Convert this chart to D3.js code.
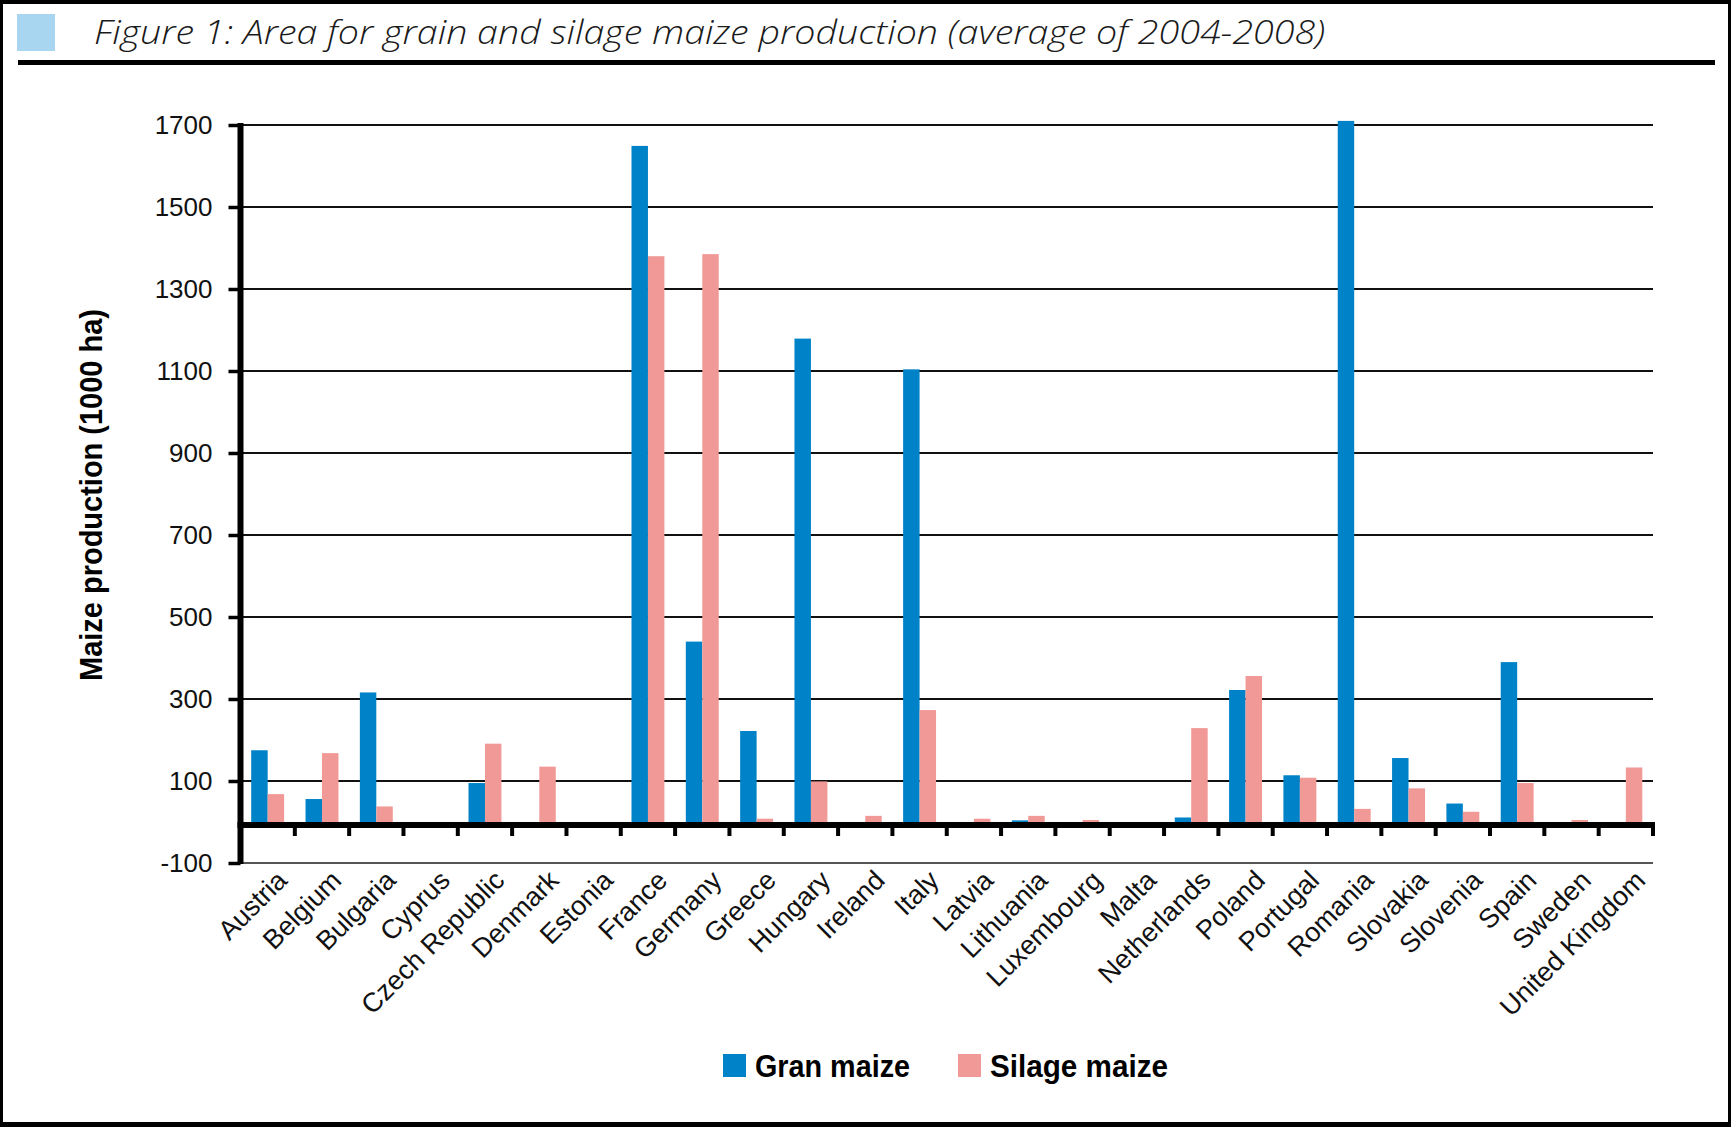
<!DOCTYPE html>
<html>
<head>
<meta charset="utf-8">
<script src="https://cdn.jsdelivr.net/npm/d3@7/dist/d3.min.js"></script>
<style>
  html, body { margin: 0; padding: 0; background: #fff; }
  svg { display: block; }
</style>
</head>
<body>
<svg id="chart" width="1731" height="1127"></svg>
<script>
// ---- data ----
const categories = ["Austria","Belgium","Bulgaria","Cyprus","Czech Republic","Denmark","Estonia","France","Germany","Greece","Hungary","Ireland","Italy","Latvia","Lithuania","Luxembourg","Malta","Netherlands","Poland","Portugal","Romania","Slovakia","Slovenia","Spain","Sweden","United Kingdom"];
const grainMaize  = [175, 56, 316, 0, 95, 0, 0, 1649, 440, 222, 1179, 0, 1104, 0, 4, 0, 0, 11, 322, 114, 1710, 156, 45, 390, 0, 0];
const silageMaize = [68, 168, 38, 0, 191, 135, 0, 1380, 1385, 8, 99, 15, 273, 8, 15, 5, 0, 229, 356, 108, 32, 82, 25, 95, 5, 133];
const seriesNames = ["Gran maize", "Silage maize"];
const seriesColors = ["#0082c8", "#f19996"];
const yTicks = [-100, 100, 300, 500, 700, 900, 1100, 1300, 1500, 1700];
const titleText = "Figure 1: Area for grain and silage maize production (average of 2004-2008)";
const yLabel = "Maize production (1000 ha)";

const svg = d3.select("#chart");
const W = 1731, H = 1127;

// ---- frame ----
svg.append("rect").attr("x", 0).attr("y", 0).attr("width", W).attr("height", 4).attr("fill", "#000");
svg.append("rect").attr("x", 0).attr("y", 0).attr("width", 3).attr("height", H).attr("fill", "#000");
svg.append("rect").attr("x", W - 3).attr("y", 0).attr("width", 3).attr("height", H).attr("fill", "#000");
svg.append("rect").attr("x", 0).attr("y", H - 5).attr("width", W).attr("height", 5).attr("fill", "#000");

// ---- title ----
svg.append("rect").attr("x", 17).attr("y", 14).attr("width", 38).attr("height", 37).attr("fill", "#a8d6f1");
svg.append("text")
  .attr("x", 94).attr("y", 44)
  .attr("font-family", "'Open Sans', 'Noto Sans', sans-serif")
  .attr("font-style", "italic").attr("font-weight", 300)
  .attr("font-size", 33).attr("fill", "#1a1a1a")
  .attr("textLength", 1231).attr("lengthAdjust", "spacingAndGlyphs")
  .text(titleText);
svg.append("rect").attr("x", 18).attr("y", 60).attr("width", 1697).attr("height", 5).attr("fill", "#000");

// ---- scales ----
const x0 = 240.5, x1 = 1653;
const x = d3.scaleBand().domain(categories).range([x0, x1]).paddingInner(0).paddingOuter(0);
const xs = d3.scaleBand().domain([0, 1]).range([0, x.bandwidth()]).paddingOuter(0.65).paddingInner(0);
const y = d3.scaleLinear().domain([-100, 1700]).range([863, 125]);

// ---- gridlines ----
const g = svg.append("g");
g.selectAll("line.grid").data(yTicks.filter(d => d > 0)).join("line")
  .attr("class", "grid")
  .attr("x1", x0).attr("x2", x1)
  .attr("y1", d => y(d)).attr("y2", d => y(d))
  .attr("stroke", "#111").attr("stroke-width", 1.8);
g.append("line").attr("x1", x0).attr("x2", x1)
  .attr("y1", y(-100)).attr("y2", y(-100))
  .attr("stroke", "#555").attr("stroke-width", 2);

// ---- bars ----
const groups = g.selectAll("g.cat").data(categories).join("g")
  .attr("class", "cat")
  .attr("transform", d => `translate(${x(d)},0)`);
groups.selectAll("rect").data((d, i) => [grainMaize[i], silageMaize[i]]).join("rect")
  .attr("x", (d, j) => xs(j))
  .attr("width", xs.bandwidth())
  .attr("y", d => y(Math.max(0, d)))
  .attr("height", d => Math.abs(y(d) - y(0)))
  .attr("fill", (d, j) => seriesColors[j]);

// ---- y axis ----
const yAxis = d3.axisLeft(y).tickValues(yTicks).tickSize(12).tickPadding(16).tickFormat(d => String(d));
const ya = svg.append("g").attr("transform", `translate(${x0},0)`).call(yAxis);
ya.select(".domain").remove();
ya.selectAll(".tick line").attr("stroke", "#000").attr("stroke-width", 3.5);
ya.selectAll(".tick text")
  .attr("font-family", "'Liberation Sans', Arial, sans-serif")
  .attr("font-size", 26).attr("fill", "#111");
svg.append("line").attr("x1", x0).attr("x2", x0)
  .attr("y1", y(1700) - 2).attr("y2", y(-100) + 1)
  .attr("stroke", "#000").attr("stroke-width", 6);

// ---- x axis (zero line) ----
svg.append("line").attr("x1", x0 - 3).attr("x2", x1 + 2)
  .attr("y1", y(0) + 3).attr("y2", y(0) + 3)
  .attr("stroke", "#000").attr("stroke-width", 6);
const bounds = d3.range(1, categories.length + 1).map(i => x0 + i * x.step());
svg.selectAll("line.xtick").data(bounds).join("line")
  .attr("class", "xtick")
  .attr("x1", d => d).attr("x2", d => d)
  .attr("y1", y(0)).attr("y2", y(0) + 14)
  .attr("stroke", "#000").attr("stroke-width", 4);

// x labels
svg.selectAll("text.xl").data(categories).join("text")
  .attr("class", "xl")
  .attr("transform", d => `translate(${x(d) + x.bandwidth() / 2 + 21},882) rotate(-45)`)
  .attr("text-anchor", "end")
  .attr("font-family", "'Liberation Sans', Arial, sans-serif")
  .attr("font-size", 27).attr("fill", "#111")
  .text(d => d);

// y label
svg.append("text")
  .attr("transform", "translate(102,495) rotate(-90)")
  .attr("text-anchor", "middle")
  .attr("font-family", "'Liberation Sans Narrow', 'Liberation Sans', Arial, sans-serif")
  .attr("font-weight", "bold").attr("font-size", 32).attr("fill", "#000")
  .attr("textLength", 372).attr("lengthAdjust", "spacingAndGlyphs")
  .text(yLabel);

// ---- legend ----
const legendX = [723, 958];
const legendW = [155, 178];
const leg = svg.selectAll("g.leg").data(seriesNames).join("g")
  .attr("class", "leg")
  .attr("transform", (d, i) => `translate(${legendX[i]},1054)`);
leg.append("rect").attr("width", 23).attr("height", 23).attr("fill", (d, i) => seriesColors[i]);
leg.append("text")
  .attr("x", 32).attr("y", 23)
  .attr("font-family", "'Liberation Sans Narrow', 'Liberation Sans', Arial, sans-serif")
  .attr("font-weight", "bold").attr("font-size", 32).attr("fill", "#000")
  .attr("textLength", (d, i) => legendW[i]).attr("lengthAdjust", "spacingAndGlyphs")
  .text(d => d);
</script>
</body>
</html>
